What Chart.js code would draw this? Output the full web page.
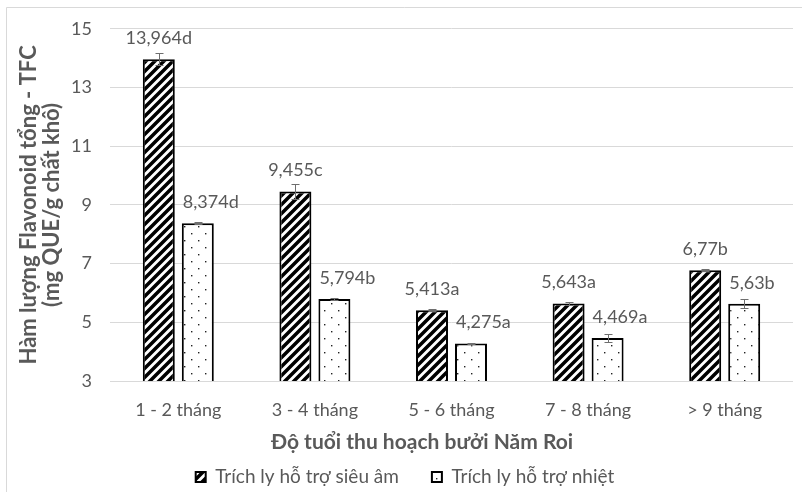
<!DOCTYPE html>
<html>
<head>
<meta charset="utf-8">
<script src="https://cdn.jsdelivr.net/npm/chart.js@4"></script>
<style>
  html, body { margin: 0; padding: 0; background: #ffffff; overflow: hidden; }
  #wrap { position: relative; width: 802px; height: 492px; }
</style>
</head>
<body>
<div id="wrap"><canvas id="c" width="802" height="492"></canvas></div>
<script>
// Harvest age groups
const categories = ['1 - 2 tháng', '3 - 4 tháng', '5 - 6 tháng', '7 - 8 tháng', '> 9 tháng'];
const seriesNames = ['Trích ly hỗ trợ siêu âm', 'Trích ly hỗ trợ nhiệt'];

// Ultrasound-assisted extraction: mean TFC, standard deviation, significance letters
const ultrasoundValues = [13.964, 9.455, 5.413, 5.643, 6.77];
const ultrasoundErrors = [0.2, 0.26, 0.03, 0.06, 0.03];
const ultrasoundLetters = ['d', 'c', 'a', 'a', 'b'];

// Heat-assisted extraction: mean TFC, standard deviation, significance letters
const heatValues = [8.374, 5.794, 4.275, 4.469, 5.63];
const heatErrors = [0.03, 0.05, 0.02, 0.13, 0.15];
const heatLetters = ['d', 'b', 'a', 'a', 'b'];

const yTicks = [3, 5, 7, 9, 11, 13, 15];
const yTitle = ['Hàm lượng Flavonoid tổng - TFC', '(mg QUE/g chất khô)'];
const xTitle = 'Độ tuổi thu hoạch bưởi Năm Roi';

const errorSets = [ultrasoundErrors, heatErrors];
const letterSets = [ultrasoundLetters, heatLetters];

const GRAY = '#595959';
const FONT = 'Lato';

// Fill patterns: wide upward diagonal stripes and sparse dots
function stripePattern() {
  const s = 9;
  const cv = document.createElement('canvas');
  cv.width = s; cv.height = s;
  const g = cv.getContext('2d');
  g.fillStyle = '#ffffff';
  g.fillRect(0, 0, s, s);
  g.strokeStyle = '#000000';
  g.lineWidth = 3.5;
  g.beginPath();
  for (const c of [0, s, 2 * s]) {
    g.moveTo(c - s - 2, s + 2);
    g.lineTo(c + 2, -2);
  }
  g.stroke();
  return g.createPattern(cv, 'repeat');
}
function dotPattern() {
  const s = 14;
  const cv = document.createElement('canvas');
  cv.width = s; cv.height = s;
  const g = cv.getContext('2d');
  g.fillStyle = '#ffffff';
  g.fillRect(0, 0, s, s);
  g.fillStyle = '#222222';
  g.fillRect(2, 2, 1.4, 1.4);
  g.fillRect(9, 9, 1.4, 1.4);
  return g.createPattern(cv, 'repeat');
}

const frame = {
  id: 'frame',
  beforeDraw(chart) {
    const ctx = chart.ctx;
    ctx.save();
    ctx.fillStyle = '#ffffff';
    ctx.fillRect(0, 0, chart.width, chart.height);
    ctx.strokeStyle = '#d9d9d9';
    ctx.lineWidth = 1;
    ctx.beginPath();
    ctx.moveTo(6.5, chart.height);
    ctx.lineTo(6.5, 7.5);
    ctx.lineTo(chart.width, 7.5);
    ctx.stroke();
    ctx.restore();
  }
};

const errorBars = {
  id: 'errorBars',
  afterDatasetsDraw(chart) {
    const ctx = chart.ctx;
    const y = chart.scales.y;
    ctx.save();
    ctx.strokeStyle = '#6e6e6e';
    ctx.lineWidth = 1;
    chart.data.datasets.forEach((ds, di) => {
      chart.getDatasetMeta(di).data.forEach((bar, i) => {
        const v = ds.data[i], e = errorSets[di][i];
        const top = Math.round(y.getPixelForValue(v + e)) + 0.5;
        const bot = Math.round(y.getPixelForValue(v - e)) + 0.5;
        const x = Math.round(bar.x) + 0.5;
        ctx.beginPath();
        ctx.moveTo(x, top); ctx.lineTo(x, bot);
        ctx.moveTo(x - 4, top); ctx.lineTo(x + 4, top);
        ctx.moveTo(x - 4, bot); ctx.lineTo(x + 4, bot);
        ctx.stroke();
      });
    });
    ctx.restore();
  }
};

const valueLabels = {
  id: 'valueLabels',
  afterDatasetsDraw(chart) {
    const ctx = chart.ctx;
    ctx.save();
    ctx.font = '18px ' + FONT;
    ctx.fillStyle = GRAY;
    ctx.textBaseline = 'middle';
    chart.data.datasets.forEach((ds, di) => {
      chart.getDatasetMeta(di).data.forEach((bar, i) => {
        const txt = String(ds.data[i]).replace('.', ',') + letterSets[di][i];
        if (di === 0) {
          ctx.textAlign = 'center';
          ctx.fillText(txt, bar.x, bar.y - 21);
        } else {
          ctx.textAlign = 'left';
          ctx.fillText(txt, bar.x - bar.width / 2 + 1, bar.y - 21);
        }
      });
    });
    ctx.restore();
  }
};

const axisTitleX = {
  id: 'axisTitleX',
  afterDraw(chart) {
    const ctx = chart.ctx;
    ctx.save();
    ctx.font = 'bold 21px ' + FONT;
    ctx.fillStyle = GRAY;
    ctx.textAlign = 'center';
    ctx.textBaseline = 'middle';
    ctx.fillText(xTitle, 422, 442);
    ctx.restore();
  }
};

new Chart(document.getElementById('c'), {
  type: 'bar',
  data: {
    labels: categories,
    datasets: [
      {
        label: seriesNames[0],
        data: ultrasoundValues,
        backgroundColor: stripePattern(),
        borderColor: '#000000',
        borderWidth: 2,
        categoryPercentage: 0.571,
        barPercentage: 0.82
      },
      {
        label: seriesNames[1],
        data: heatValues,
        backgroundColor: dotPattern(),
        borderColor: '#000000',
        borderWidth: 2,
        categoryPercentage: 0.571,
        barPercentage: 0.82
      }
    ]
  },
  options: {
    responsive: false,
    animation: false,
    devicePixelRatio: 1,
    layout: { padding: { left: 17, top: 27, right: 9, bottom: -4.5 } },
    scales: {
      x: {
        grid: { display: false, drawTicks: false },
        border: { display: false },
        ticks: { color: GRAY, font: { family: FONT, size: 18 }, padding: 18, maxRotation: 0 },
        afterFit(scale) { scale.height = 53.5; }
      },
      y: {
        min: yTicks[0],
        max: yTicks[yTicks.length - 1],
        ticks: { stepSize: yTicks[1] - yTicks[0], color: GRAY, font: { family: FONT, size: 18 }, padding: 18 },
        grid: { color: '#d9d9d9', lineWidth: 1, drawTicks: false },
        border: { display: false },
        title: {
          display: true,
          text: yTitle,
          color: GRAY,
          font: { family: FONT, size: 22, weight: 'bold', lineHeight: 1.045 },
          padding: { top: 0, bottom: 0 }
        },
        afterFit(scale) { scale.width = 93; }
      }
    },
    plugins: {
      legend: {
        position: 'bottom',
        labels: {
          color: GRAY,
          font: { family: FONT, size: 19 },
          boxWidth: 10,
          boxHeight: 10,
          padding: 33
        }
      },
      tooltip: { enabled: false }
    }
  },
  plugins: [frame, errorBars, valueLabels, axisTitleX]
});
</script>
</body>
</html>
